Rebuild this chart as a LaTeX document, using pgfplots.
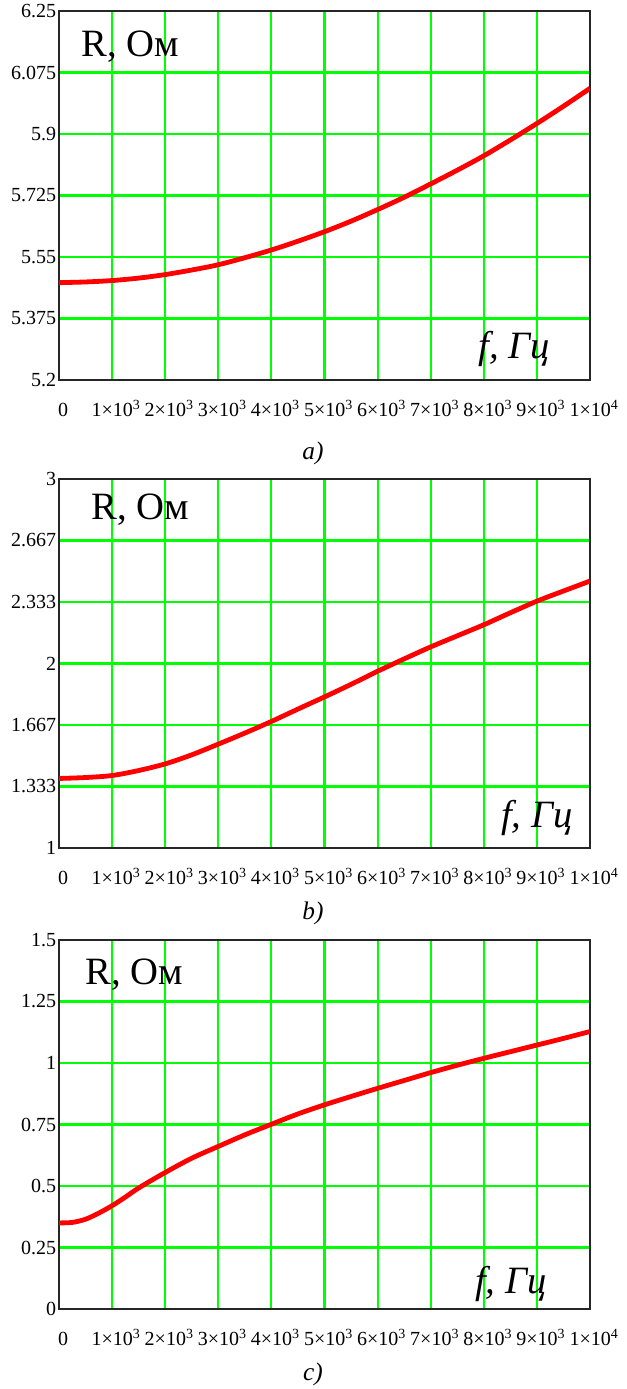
\documentclass[border=0pt]{standalone}
\usepackage{fontspec}
\setmainfont{Liberation Serif}
\usepackage{pgfplots}
\pgfplotsset{compat=1.18}
\definecolor{gridgreen}{RGB}{0,255,0}
\definecolor{curvered}{RGB}{255,0,0}

\pgfplotsset{
  mcad/.style={
    width=398.25pt, height=276.75pt, scale only axis,
    anchor=north west,
    xmin=0, xmax=10000,
    xtick={0,1000,...,10000},
    xticklabels={0,1×10\textsuperscript{3},2×10\textsuperscript{3},3×10\textsuperscript{3},4×10\textsuperscript{3},5×10\textsuperscript{3},6×10\textsuperscript{3},7×10\textsuperscript{3},8×10\textsuperscript{3},9×10\textsuperscript{3},1×10\textsuperscript{4}},
    grid=major,
    major grid style={gridgreen, line width=1.6pt},
    major tick length=0pt,
    axis line style={black!85, line width=1.6pt},
    tick label style={font=\fontsize{15}{16}\selectfont},
    yticklabel style={anchor=east, inner sep=2pt},
    xticklabel style={anchor=base, yshift=-27pt, xshift=3pt},
    scaled ticks=false,
  },
  rcurve/.style={curvered, line width=3.6pt, smooth, no marks},
}
\newcommand{\bigfont}{\fontsize{29}{30}\selectfont}
\newcommand{\capfont}{\fontsize{19}{20}\selectfont\itshape}

\begin{document}
\begin{tikzpicture}
\useasboundingbox (0,0) rectangle (469.5pt,-1041.75pt);

% a)
\begin{axis}[mcad, at={(44.25pt,-8.25pt)},
  ymin=5.2, ymax=6.25,
  ytick={5.2,5.375,5.55,5.725,5.9,6.075,6.25},
  yticklabels={5.2,5.375,5.55,5.725,5.9,6.075,6.25}]
\addplot[rcurve] coordinates {
  (0,5.477) (500,5.479) (1000,5.483) (1500,5.490) (2000,5.500) (2500,5.513)
  (3000,5.528) (3500,5.548) (4000,5.570) (4500,5.595) (5000,5.622)
  (5500,5.652) (6000,5.685) (6500,5.720) (7000,5.758) (7500,5.797)
  (8000,5.838) (8500,5.883) (9000,5.930) (9500,5.979) (10000,6.030)};
\node[anchor=west, font=\bigfont] at (rel axis cs:0.034,0.903) {R, Ом};
\node[font=\bigfont\itshape] at (rel axis cs:0.857,0.084) {f, Гц};
\end{axis}
\node[font=\capfont] at (234.75pt,-339.75pt) {a)};

% b)
\begin{axis}[mcad, at={(44.25pt,-359.25pt)},
  ymin=1, ymax=3,
  ytick={1,1.3333,1.6667,2,2.3333,2.6667,3},
  yticklabels={1,1.333,1.667,2,2.333,2.667,3}]
\addplot[rcurve] coordinates {
  (0,1.377) (500,1.382) (1000,1.393) (1500,1.420) (2000,1.456) (2500,1.505)
  (3000,1.563) (3500,1.623) (4000,1.686) (4500,1.753) (5000,1.819)
  (5500,1.887) (6000,1.958) (6500,2.025) (7000,2.090) (7500,2.150)
  (8000,2.210) (8500,2.275) (9000,2.338) (9500,2.393) (10000,2.447)};
\node[anchor=west, font=\bigfont] at (rel axis cs:0.053,0.916) {R, Ом};
\node[font=\bigfont\itshape] at (rel axis cs:0.90,0.081) {f, Гц};
\end{axis}
\node[font=\capfont] at (234.75pt,-684.75pt) {b)};

% c)
\begin{axis}[mcad, at={(44.25pt,-705pt)},
  ymin=0, ymax=1.5,
  ytick={0,0.25,0.5,0.75,1,1.25,1.5},
  yticklabels={0,0.25,0.5,0.75,1,1.25,1.5}]
\addplot[rcurve] coordinates {
  (0,0.350) (250,0.352) (500,0.365) (750,0.390) (1000,0.420) (1250,0.455)
  (1500,0.492) (2000,0.555) (2500,0.613) (3000,0.661) (3500,0.708)
  (4000,0.751) (4500,0.793) (5000,0.830) (5500,0.864) (6000,0.897)
  (6500,0.929) (7000,0.961) (7500,0.991) (8000,1.019) (8500,1.046)
  (9000,1.073) (9500,1.100) (10000,1.128)};
\node[anchor=west, font=\bigfont] at (rel axis cs:0.041,0.905) {R, Ом};
\node[font=\bigfont\itshape] at (rel axis cs:0.851,0.068) {f, Гц};
\end{axis}
\node[font=\capfont] at (234.75pt,-1031pt) {c)};
\end{tikzpicture}
\end{document}
